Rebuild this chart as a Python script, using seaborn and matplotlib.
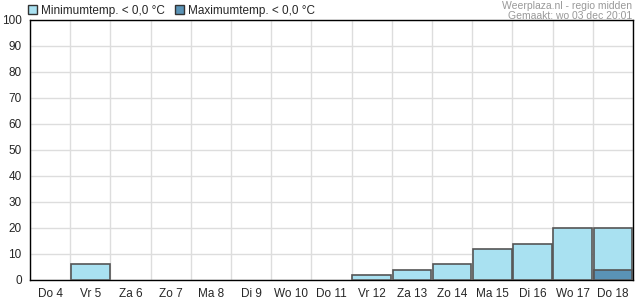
import matplotlib
matplotlib.use("Agg")
import matplotlib.pyplot as plt
import matplotlib.patches as mpatches
from matplotlib.ticker import FixedLocator
import seaborn as sns
import pandas as pd

days = ["Do 4", "Vr 5", "Za 6", "Zo 7", "Ma 8", "Di 9", "Wo 10", "Do 11",
        "Vr 12", "Za 13", "Zo 14", "Ma 15", "Di 16", "Wo 17", "Do 18"]
min_vals = [0, 6, 0, 0, 0, 0, 0, 0, 2, 4, 6, 12, 14, 20, 20]
max_vals = [0, 0, 0, 0, 0, 0, 0, 0, 0, 0, 0, 0, 0, 0, 4]
yticks = list(range(0, 101, 10))

c_min = "#a9e1f1"
c_max = "#5a93b6"
edge = "#555555"

sns.set_style("white")
plt.rcParams["font.family"] = ["Liberation Sans", "DejaVu Sans"]

df = pd.DataFrame({"day": days, "min": min_vals, "max": max_vals})

fig = plt.figure(figsize=(6.35, 3.0), dpi=100)
ax = fig.add_axes([30/635, 20/300, 603/635, 260/300])

sns.barplot(data=df, x="day", y="min", order=days, color=c_min, width=0.96,
            edgecolor=edge, linewidth=1.2, saturation=1, ax=ax, zorder=3)
sns.barplot(data=df, x="day", y="max", order=days, color=c_max, width=0.96,
            edgecolor=edge, linewidth=1.2, saturation=1, ax=ax, zorder=4)
for p in ax.patches:
    if p.get_height() == 0:
        p.set_visible(False)

ax.set_xlim(-0.5, len(days) - 0.5)
ax.set_ylim(0, 100)
ax.set_yticks(yticks)
ax.set_yticklabels([str(v) for v in yticks], fontsize=8.5)
ax.set_xlabel("")
ax.set_ylabel("")
ax.tick_params(axis="x", which="major", length=0, labelsize=8.5, pad=6)
ax.xaxis.set_minor_locator(FixedLocator([i - 0.5 for i in range(len(days) + 1)]))
ax.tick_params(axis="x", which="minor", length=5, width=1, color="black", direction="out")
ax.tick_params(axis="y", length=4, width=1, color="black", direction="out", pad=2, labelsize=8.5)
ax.yaxis.grid(True, color="#dddddd", linewidth=1, zorder=0)
ax.xaxis.grid(True, which="minor", color="#dddddd", linewidth=1, zorder=0)
ax.xaxis.grid(False, which="major")
ax.set_axisbelow(True)
for s in ax.spines.values():
    s.set_color("black")
    s.set_linewidth(1)
    s.set_visible(True)

handles = [mpatches.Patch(facecolor=c_min, edgecolor="#333333", label="Minimumtemp. < 0,0 °C"),
           mpatches.Patch(facecolor=c_max, edgecolor="#333333", label="Maximumtemp. < 0,0 °C")]
fig.legend(handles=handles, loc="upper left", bbox_to_anchor=(26/635, 1 - 3/300), ncol=2,
           frameon=False, fontsize=8.5, handlelength=0.75, handleheight=0.75,
           handletextpad=0.35, columnspacing=0.9, borderaxespad=0, borderpad=0.15)

fig.text(632/635, 1 - 1/300, "Weerplaza.nl - regio midden", ha="right", va="top",
         fontsize=7.5, color="#999999")
fig.text(632/635, 1 - 11/300, "Gemaakt: wo 03 dec 20:01", ha="right", va="top",
         fontsize=7.5, color="#999999")

fig.savefig("out.png", dpi=100)
